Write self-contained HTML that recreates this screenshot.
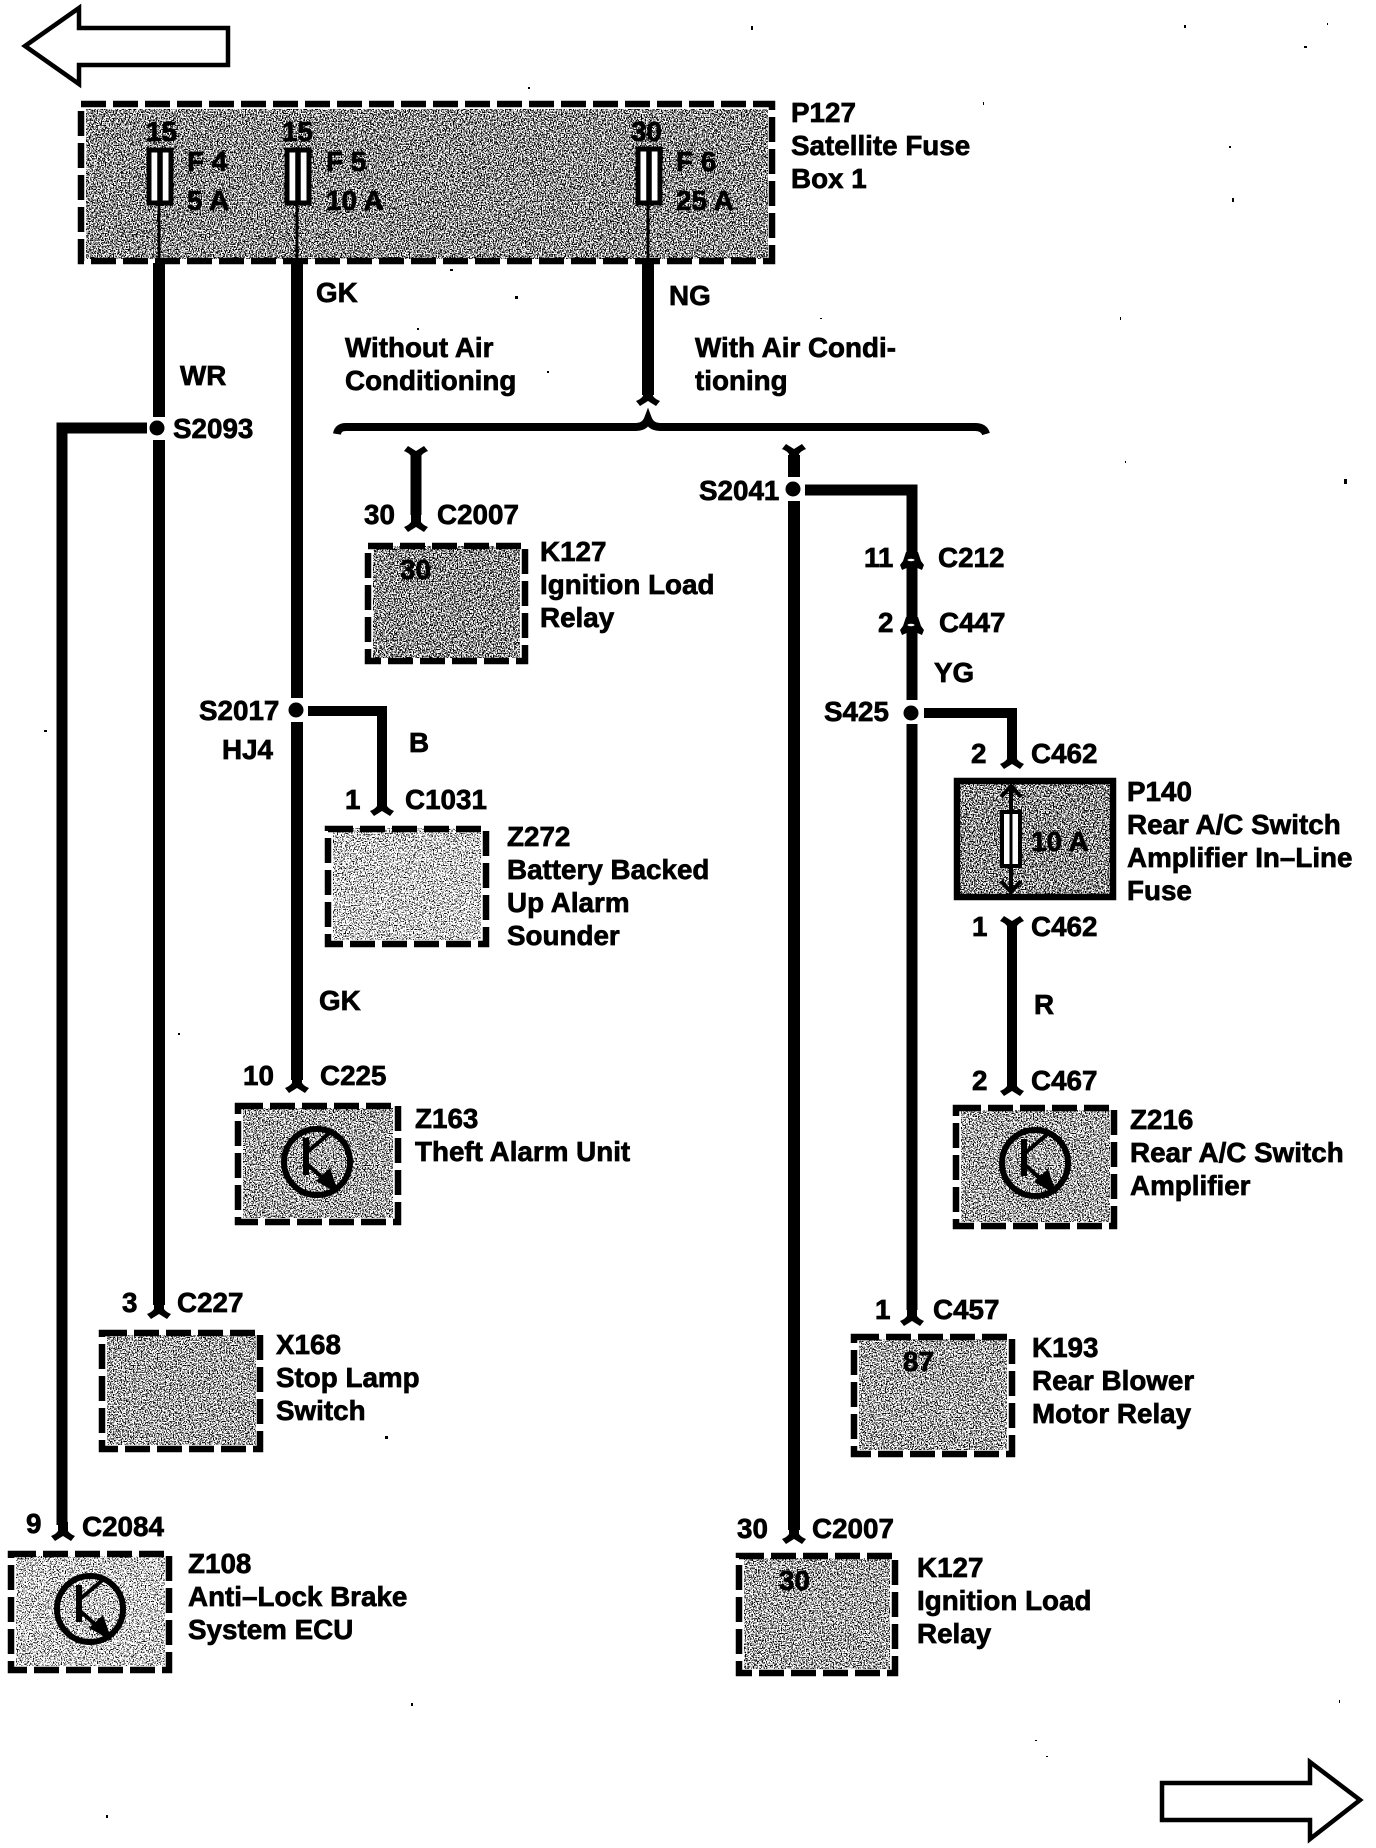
<!DOCTYPE html>
<html><head><meta charset="utf-8"><title>Wiring diagram</title>
<style>
html,body{margin:0;padding:0;background:#fff;width:1376px;height:1848px;overflow:hidden}
svg{display:block}
text{font-family:"Liberation Sans",Arial,sans-serif;font-weight:700;font-size:27.8px;fill:#000;stroke:#000;stroke-width:.7px}
.w{stroke:#000;fill:none;stroke-linecap:butt;stroke-linejoin:miter}
.d{fill:none;stroke:#000;stroke-width:6.5;stroke-dasharray:25 7}
</style></head><body>
<svg width="1376" height="1848" viewBox="0 0 1376 1848" xmlns="http://www.w3.org/2000/svg">
<defs>
<filter id="n1" x="0" y="0" width="1" height="1" color-interpolation-filters="sRGB"><feTurbulence type="fractalNoise" baseFrequency="0.75" numOctaves="2" seed="3"/><feColorMatrix values="0 0 0 0 0 0 0 0 0 0 0 0 0 0 0 14 0 0 0 -6.7"/></filter>
<filter id="n2" x="0" y="0" width="1" height="1" color-interpolation-filters="sRGB"><feTurbulence type="fractalNoise" baseFrequency="0.75" numOctaves="2" seed="8"/><feColorMatrix values="0 0 0 0 0 0 0 0 0 0 0 0 0 0 0 14 0 0 0 -7.05"/></filter>
<filter id="n3" x="0" y="0" width="1" height="1" color-interpolation-filters="sRGB"><feTurbulence type="fractalNoise" baseFrequency="0.75" numOctaves="2" seed="5"/><feColorMatrix values="0 0 0 0 0 0 0 0 0 0 0 0 0 0 0 14 0 0 0 -7.65"/></filter>
<path id="f" d="M-5 -18L-5 -9Q-7 -6 -12 -4L-8 1L0 -4L8 1L12 -4Q7 -6 5 -9L5 -18Z"/>
<g id="t">
<circle r="33" fill="none" stroke="#000" stroke-width="6"/>
<path class="w" stroke-width="6" d="M-11 -24V13"/>
<path class="w" stroke-width="4" d="M-11 -9L15 -31M-11 1L18 27"/>
<path d="M22 32L-1 19L13 6Z"/>
</g>
<path id="c" d="M906 552H918L921 561L924 565L922 570L915 567H909L902 570L900 565L903 561Z"/>
</defs>

<!-- arrows -->
<path d="M228 28V65H79V84L25 46L79 8V28Z" fill="#fff" stroke="#000" stroke-width="4.5"/>
<path d="M1162 1783V1820H1310V1839L1360 1800L1310 1762V1783Z" fill="#fff" stroke="#000" stroke-width="4.5"/>

<!-- fills -->
<rect x="86" y="109" width="682" height="150" filter="url(#n1)"/>
<rect x="373" y="546" width="147" height="112" filter="url(#n1)"/>
<rect x="333" y="828" width="148" height="112" filter="url(#n3)"/>
<rect x="959" y="783" width="152" height="112" filter="url(#n1)"/>
<rect x="243" y="1108" width="150" height="110" filter="url(#n2)"/>
<rect x="961" y="1110" width="149" height="112" filter="url(#n2)"/>
<rect x="107" y="1335" width="149" height="110" filter="url(#n2)"/>
<rect x="859" y="1339" width="148" height="111" filter="url(#n2)"/>
<rect x="16" y="1556" width="149" height="110" filter="url(#n3)"/>
<rect x="744" y="1558" width="146" height="111" filter="url(#n2)"/>

<!-- box outlines -->
<rect class="d" x="81" y="104" width="691" height="157"/>
<rect class="d" x="368" y="546" width="157" height="115"/>
<rect class="d" x="328" y="829" width="158" height="115"/>
<rect x="957" y="781" width="156" height="116" fill="none" stroke="#000" stroke-width="6.5"/>
<rect class="d" x="238" y="1106" width="160" height="116"/>
<rect class="d" x="956" y="1108" width="158" height="118"/>
<rect class="d" x="102" y="1333" width="158" height="116"/>
<rect class="d" x="854" y="1337" width="158" height="117"/>
<rect class="d" x="11" y="1554" width="158" height="116"/>
<rect class="d" x="739" y="1556" width="156" height="117"/>

<!-- fuses in P127 -->
<path class="w" stroke-width="3" d="M159 203V263M297 203V263M648 203V263"/>
<g fill="#fff" stroke="#000" stroke-width="5">
<rect x="149" y="150" width="22" height="53"/>
<rect x="287" y="150" width="22" height="53"/>
<rect x="638" y="149" width="22" height="54"/>
</g>
<path class="w" stroke-width="5.5" d="M160 150V203M298 150V203M649 149V203"/>

<!-- wires -->
<g class="w" stroke-width="12">
<path d="M159 263V417M159 440V1305"/>
<path d="M297 263V698M297 722V1080"/>
<path d="M648 263V395"/>
<path d="M62 1525V428H147" stroke-width="11"/>
<path d="M416 455V515" stroke-width="11"/>
<path d="M308 711H382V800" stroke-width="10"/>
<path d="M794 455V477M794 501V1530"/>
<path d="M805 490H912V700M912 724V1310" stroke-width="11"/>
<path d="M924 713H1012V755" stroke-width="10"/>
<path d="M1012 925V1082" stroke-width="10"/>
</g>

<!-- forks -->
<use href="#f" x="648" y="405"/>
<use href="#f" x="416" y="531"/>
<use href="#f" transform="translate(416 447) scale(1 -1)"/>
<use href="#f" x="382" y="815"/>
<use href="#f" x="297" y="1092"/>
<use href="#f" x="159" y="1318"/>
<use href="#f" x="63" y="1540"/>
<use href="#f" x="794" y="1543"/>
<use href="#f" transform="translate(794 445) scale(1 -1)"/>
<use href="#f" x="1012" y="768"/>
<use href="#f" transform="translate(1012 917) scale(1 -1)"/>
<use href="#f" x="1012" y="1095"/>
<use href="#f" x="912" y="1325"/>
<use href="#c"/>
<use href="#c" y="65"/>
<ellipse cx="911" cy="560" rx="3.5" ry="1.2" fill="#fff"/>
<ellipse cx="911" cy="625" rx="3.5" ry="1.2" fill="#fff"/>

<!-- nodes -->
<circle cx="157" cy="428" r="7.5"/>
<circle cx="296" cy="710" r="7.5"/>
<circle cx="793" cy="489" r="7.5"/>
<circle cx="911" cy="713" r="7.5"/>

<!-- brace -->
<path class="w" stroke-width="8" stroke-linecap="round" d="M337 434Q338 427 346 427H636Q645 427 648 419Q651 427 660 427H975Q984 427 986 434"/>

<!-- inline fuse P140 -->
<path class="w" stroke-width="4" d="M1011 786V892M1001 797L1011 786L1021 797M1001 881L1011 892L1021 881"/>
<rect x="1002" y="812" width="18" height="54" fill="#fff" stroke="#000" stroke-width="4"/>
<path class="w" stroke-width="3" d="M1011 812V866"/>

<!-- transistors -->
<use href="#t" x="317" y="1162"/>
<use href="#t" x="1035" y="1163"/>
<use href="#t" x="90" y="1609"/>

<!-- labels -->
<text x="146" y="141">15</text>
<text x="282" y="141">15</text>
<text x="631" y="141">30</text>
<text x="187" y="171">F 4</text>
<text x="187" y="210">5 A</text>
<text x="326" y="171">F 5</text>
<text x="326" y="210">10 A</text>
<text x="676" y="171">F 6</text>
<text x="676" y="210">25 A</text>
<text x="791" y="122">P127</text>
<text x="791" y="155">Satellite Fuse</text>
<text x="791" y="188">Box 1</text>
<text x="316" y="302">GK</text>
<text x="669" y="305">NG</text>
<text x="180" y="385">WR</text>
<text x="345" y="357">Without Air</text>
<text x="345" y="390">Conditioning</text>
<text x="695" y="357">With Air Condi-</text>
<text x="695" y="390">tioning</text>
<text x="173" y="438">S2093</text>

<text x="364" y="524">30</text>
<text x="437" y="524">C2007</text>
<text x="400" y="579">30</text>
<text x="540" y="561">K127</text>
<text x="540" y="594">Ignition Load</text>
<text x="540" y="627">Relay</text>
<text x="699" y="500">S2041</text>

<text x="199" y="720">S2017</text>
<text x="222" y="759">HJ4</text>
<text x="409" y="752">B</text>
<text x="345" y="809">1</text>
<text x="405" y="809">C1031</text>
<text x="507" y="846">Z272</text>
<text x="507" y="879">Battery Backed</text>
<text x="507" y="912">Up Alarm</text>
<text x="507" y="945">Sounder</text>

<text x="319" y="1010">GK</text>
<text x="243" y="1085">10</text>
<text x="320" y="1085">C225</text>
<text x="415" y="1128">Z163</text>
<text x="415" y="1161">Theft Alarm Unit</text>

<text x="122" y="1312">3</text>
<text x="177" y="1312">C227</text>
<text x="276" y="1354">X168</text>
<text x="276" y="1387">Stop Lamp</text>
<text x="276" y="1420">Switch</text>

<text x="26" y="1533">9</text>
<text x="82" y="1536">C2084</text>
<text x="188" y="1573">Z108</text>
<text x="188" y="1606">Anti–Lock Brake</text>
<text x="188" y="1639">System ECU</text>

<text x="864" y="567">11</text>
<text x="938" y="567">C212</text>
<text x="878" y="632">2</text>
<text x="939" y="632">C447</text>
<text x="934" y="682">YG</text>
<text x="824" y="721">S425</text>
<text x="971" y="763">2</text>
<text x="1031" y="763">C462</text>
<text x="1031" y="851">10 A</text>
<text x="1127" y="801">P140</text>
<text x="1127" y="834">Rear A/C Switch</text>
<text x="1127" y="867">Amplifier In–Line</text>
<text x="1127" y="900">Fuse</text>
<text x="972" y="936">1</text>
<text x="1031" y="936">C462</text>
<text x="1034" y="1014">R</text>
<text x="972" y="1090">2</text>
<text x="1031" y="1090">C467</text>
<text x="1130" y="1129">Z216</text>
<text x="1130" y="1162">Rear A/C Switch</text>
<text x="1130" y="1195">Amplifier</text>

<text x="875" y="1319">1</text>
<text x="933" y="1319">C457</text>
<text x="903" y="1371">87</text>
<text x="1032" y="1357">K193</text>
<text x="1032" y="1390">Rear Blower</text>
<text x="1032" y="1423">Motor Relay</text>

<text x="737" y="1538">30</text>
<text x="812" y="1538">C2007</text>
<text x="779" y="1590">30</text>
<text x="917" y="1577">K127</text>
<text x="917" y="1610">Ignition Load</text>
<text x="917" y="1643">Relay</text>

<!-- specks -->
<g>
<rect x="751" y="26" width="2" height="4"/><rect x="1184" y="25" width="2" height="3"/><rect x="1327" y="23" width="1" height="2"/>
<rect x="1304" y="46" width="3" height="2"/><rect x="983" y="102" width="1" height="3"/><rect x="1229" y="146" width="2" height="2"/>
<rect x="1232" y="198" width="2" height="4"/><rect x="1120" y="317" width="1" height="3"/><rect x="820" y="318" width="2" height="1"/>
<rect x="528" y="87" width="2" height="2"/><rect x="450" y="269" width="3" height="2"/><rect x="515" y="296" width="3" height="3"/>
<rect x="417" y="328" width="2" height="2"/><rect x="547" y="371" width="2" height="2"/><rect x="1344" y="479" width="3" height="5"/>
<rect x="1125" y="461" width="1" height="2"/><rect x="385" y="1436" width="3" height="3"/><rect x="411" y="1703" width="2" height="3"/>
<rect x="106" y="1815" width="2" height="3"/><rect x="1035" y="1740" width="2" height="1"/><rect x="1046" y="1756" width="2" height="1"/>
<rect x="1339" y="1700" width="1" height="3"/><rect x="44" y="730" width="3" height="2"/><rect x="178" y="1033" width="2" height="2"/>
</g>
</svg>
</body></html>
